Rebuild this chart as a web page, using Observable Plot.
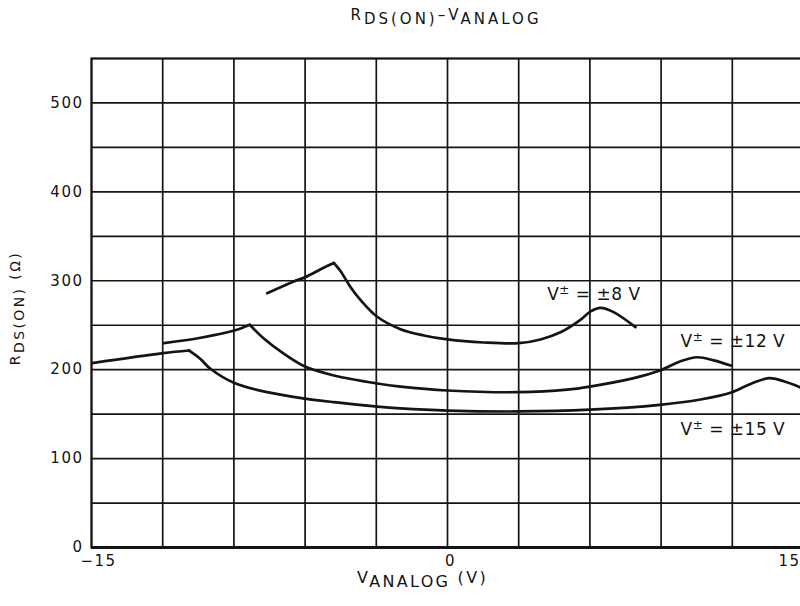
<!DOCTYPE html>
<html><head><meta charset="utf-8">
<script src="https://cdn.jsdelivr.net/npm/d3@7"></script>
<script src="https://cdn.jsdelivr.net/npm/@observablehq/plot@0.6"></script>
<style>
body{margin:0;background:#fff;width:800px;height:606px;overflow:hidden;font-family:"DejaVu Sans",sans-serif;color:#141414}
#title{height:40px;box-sizing:border-box;padding-left:92px;padding-top:8px;text-align:center;font-size:15px;line-height:15px;letter-spacing:3px}
#title .sub{position:relative;top:4px}
</style></head><body>
<div id="title">R<span class="sub">DS(ON)</span>–V<span class="sub">ANALOG</span></div>
<div id="chart"></div>
<script>
// ---- data ----
const xGridTicks = [-15, -12, -9, -6, -3, 0, 3, 6, 9, 12, 15];
const yGridTicks = [0, 50, 100, 150, 200, 250, 300, 350, 400, 450, 500, 550];
const yTickLabels = [0, 100, 200, 300, 400, 500];

// V± = ±8 V  (cusp = index of sharp peak)
const v8x = [-7.6, -6.5, -6.0, -5.2, -4.79, -4.51, -4.09, -3.67, -2.96, -1.98, -1.0, 0, 1.52, 3.0, 3.92, 4.76, 5.6, 6.03, 6.45, 7.0, 7.92];
const v8y = [286, 299, 304, 315, 320, 311, 293, 278.5, 259.5, 245.5, 238.5, 234, 230.6, 229.8, 234, 242, 256, 265.5, 269.5, 264.7, 247.8];
const v8Cusp = 4;

// V± = ±12 V
const v12x = [-11.95, -10.4, -8.98, -8.33, -7.74, -6.9, -6.01, -4.79, -2.96, -1.98, 0, 3.0, 5.04, 6.0, 7.85, 8.95, 9.82, 10.52, 11.22, 11.93];
const v12y = [229.8, 235.9, 244, 250.5, 235, 218, 203.5, 193.5, 184.5, 181, 176.6, 174.7, 177.5, 181, 190.5, 199, 209.5, 214, 210.5, 204.7];
const v12Cusp = 3;

// V± = ±15 V
const v15x = [-14.97, -11.98, -10.9, -10.41, -9.99, -8.98, -7.6, -6.01, -4.79, -2.96, -1.98, 0, 3.0, 6.0, 8.95, 10.66, 11.93, 12.77, 13.54, 14.17, 14.88];
const v15y = [207.4, 218.6, 221.6, 212, 201, 185, 174.7, 167.5, 163.5, 158.5, 156.5, 154, 153, 155, 160.5, 166.5, 174, 184, 190.4, 187, 180];
const v15Cusp = 2;

const labelText = ["V± = ±8 V", "V± = ±12 V", "V± = ±15 V"];
const labelX = [4.2, 9.82, 9.82];
const labelY = [284.6, 232, 133];

// ---- build rows ----
function segs(name, xs, ys, cusp) {
  const rows = [];
  xs.forEach((x, i) => {
    if (i <= cusp) rows.push({seg: name + "a", x, y: ys[i]});
    if (i >= cusp) rows.push({seg: name + "b", x, y: ys[i]});
  });
  return rows;
}
const lineRows = [
  ...segs("8", v8x, v8y, v8Cusp),
  ...segs("12", v12x, v12y, v12Cusp),
  ...segs("15", v15x, v15y, v15Cusp)
];
const labels = labelText.map((t, i) => ({t, x: labelX[i], y: labelY[i]}));

const ink = "#141414";
const svg = Plot.plot({
  width: 800, height: 566,
  marginTop: 18, marginBottom: 59, marginLeft: 91, marginRight: -3,
  x: {domain: [-15, 15]},
  y: {domain: [0, 550]},
  style: "font-family:'DejaVu Sans',sans-serif;font-size:15px;letter-spacing:1.5px;background:#fff;overflow:visible;color:#141414;",
  marks: [
    Plot.gridX({ticks: xGridTicks, stroke: ink, strokeOpacity: 1, strokeWidth: 1.7}),
    Plot.gridY({ticks: yGridTicks, stroke: ink, strokeOpacity: 1, strokeWidth: 1.7}),
    Plot.frame({stroke: ink, strokeWidth: 2}),
    Plot.ruleY([0], {stroke: ink, strokeWidth: 3}),
    Plot.axisY({ticks: yTickLabels, tickSize: 0, tickPadding: 8, label: null, fill: ink}),
    Plot.axisX({ticks: [-15], tickSize: 0, tickPadding: 8, dx: 7, label: null, fill: ink}),
    Plot.axisX({ticks: [0], tickSize: 0, tickPadding: 8, dx: 3, label: null, fill: ink}),
    Plot.axisX({ticks: [15], tickSize: 0, tickPadding: 8, dx: -14, label: null, fill: ink}),
    Plot.line(lineRows, {x: "x", y: "y", z: "seg", stroke: ink, strokeWidth: 2.7, curve: "catmull-rom"}),
    Plot.text(labels, {x: "x", y: "y", text: "t", textAnchor: "start", fontSize: 17, fill: ink})
  ]
});

// superscript ± in curve labels
d3.select(svg).selectAll("text").each(function() {
  const s = this.textContent;
  if (s.startsWith("V±")) {
    const el = d3.select(this);
    el.text(null).style("letter-spacing", "0.5px");
    el.append("tspan").text("V");
    el.append("tspan").attr("dy", -6).attr("font-size", 12).text("±");
    el.append("tspan").attr("dy", 6).text(s.slice(2));
  }
});

// axis titles with subscripts
const sel = d3.select(svg);
const yt = sel.append("text")
  .attr("transform", "translate(20,268) rotate(-90)")
  .attr("text-anchor", "middle")
  .attr("fill", ink).attr("font-size", 14).style("letter-spacing", "2.4px");
yt.append("tspan").text("R");
yt.append("tspan").attr("dy", 4).text("DS(ON)");
yt.append("tspan").attr("dy", -4).text(" (Ω)");

const xt = sel.append("text")
  .attr("x", 357).attr("y", 543)
  .attr("text-anchor", "start")
  .attr("fill", ink).attr("font-size", 16).style("letter-spacing", "2.3px");
xt.append("tspan").text("V");
xt.append("tspan").attr("dy", 4).text("ANALOG");
xt.append("tspan").attr("dy", -4).text(" (V)");

document.getElementById("chart").appendChild(svg);
</script>
</body></html>
